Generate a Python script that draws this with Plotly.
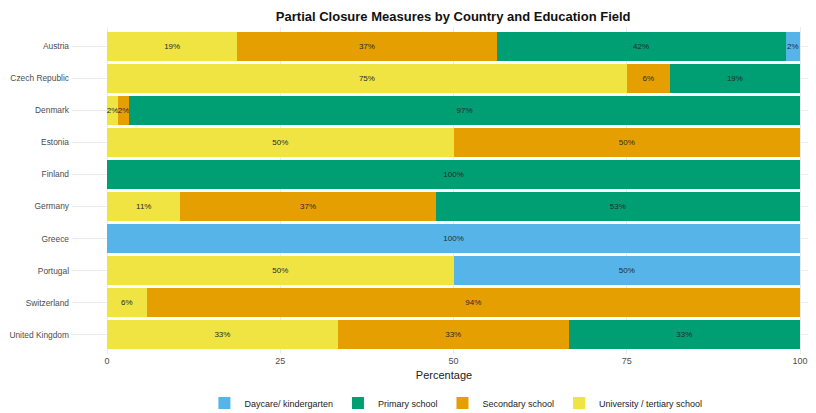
import plotly.graph_objects as go

countries = ["Austria", "Czech Republic", "Denmark", "Estonia", "Finland",
             "Germany", "Greece", "Portugal", "Switzerland", "United Kingdom"]

# percentages per field (0 = not present)
university = [18.8, 75.0, 1.6, 50.0, 0, 10.6, 0, 50.0, 5.7, 33.3]
secondary  = [37.4, 6.2, 1.6, 50.0, 0, 36.8, 0, 0, 94.3, 33.3]
primary    = [41.7, 18.8, 96.8, 0, 100.0, 52.6, 0, 0, 0, 33.4]
daycare    = [2.1, 0, 0, 0, 0, 0, 100.0, 50.0, 0, 0]

series = [
    ("University / tertiary school", university, "#F0E442"),
    ("Secondary school", secondary, "#E69F00"),
    ("Primary school", primary, "#009E73"),
    ("Daycare/ kindergarten", daycare, "#56B4E9"),
]

fig = go.Figure()
for name, vals, col in series:
    xs = [v if v > 0 else None for v in vals]
    txt = [f"{round(v)}%" if v > 0 else "" for v in vals]
    fig.add_trace(go.Bar(
        y=countries, x=xs, name=name, orientation="h",
        marker=dict(color=col, line=dict(width=0)),
        text=txt, textposition="inside", insidetextanchor="middle",
        constraintext="none", textangle=0,
        textfont=dict(size=8, color="#2a2a2a", family="Liberation Sans, Arial"),
        width=0.9,
    ))

fig.update_layout(
    barmode="stack",
    width=808, height=405,
    margin=dict(l=64, r=0, t=19, b=59, autoexpand=False),
    paper_bgcolor="white", plot_bgcolor="white",
    font=dict(family="Liberation Sans, Arial", color="#4d4d4d", size=9),
    title=dict(text="<b>Partial Closure Measures by Country and Education Field</b>",
               x=0.551, xanchor="center", y=0.978, yanchor="middle",
               font=dict(size=13, color="#111111")),
    xaxis=dict(range=[-5.05, 102.3], tickvals=[0, 25, 50, 75, 100], automargin=False,
               showgrid=True, gridcolor="#ebebeb", gridwidth=0.6, zeroline=False,
               showline=False, ticks="", tickfont=dict(size=9, color="#4d4d4d"),
               title=dict(text="Percentage", font=dict(size=11, color="#222222"), standoff=6)),
    yaxis=dict(categoryorder="array", categoryarray=countries, range=[9.6, -0.6],
               automargin=False,
               showgrid=True, gridcolor="#ebebeb", gridwidth=0.8, showline=False,
               ticks="", ticklabelstandoff=2, tickfont=dict(size=8.4, color="#4d4d4d")),
    legend=dict(orientation="h", traceorder="reversed", x=0.516, xanchor="center",
                y=-0.15, yanchor="middle", font=dict(size=9, color="#222222"),
                itemwidth=30),
    showlegend=True,
)

fig.write_html("out.html")
